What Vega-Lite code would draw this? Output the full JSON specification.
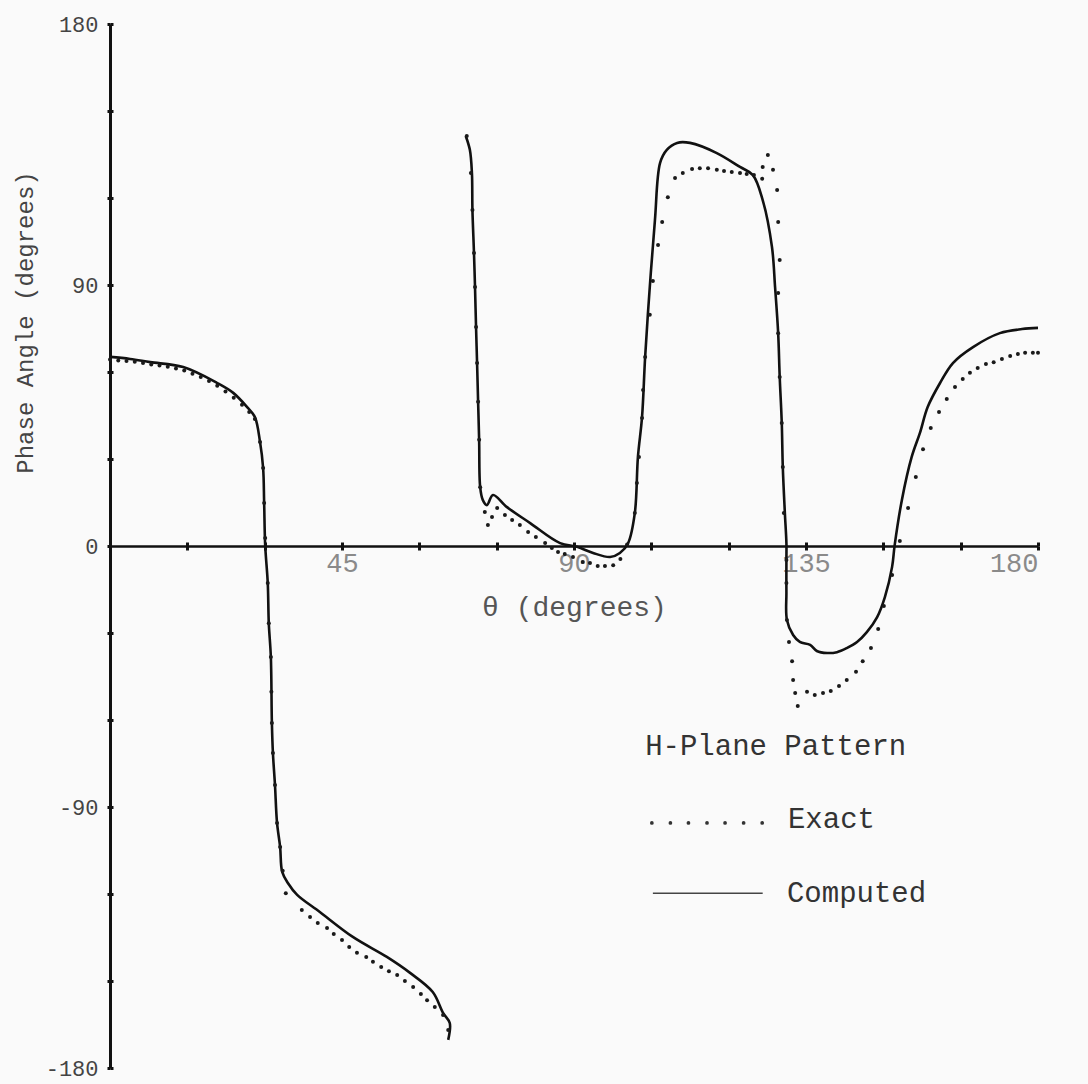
{
  "$schema": "https://vega.github.io/schema/vega-lite/v6.json",
  "width": 928,
  "height": 1044,
  "autosize": {"type": "none"},
  "padding": {"left": 110, "top": 24, "right": 50, "bottom": 16},
  "background": "#fafafa",
  "config": {
    "view": {"stroke": null},
    "font": "Liberation Mono",
    "axis": {"grid": false, "domainColor": "#111", "tickColor": "#111", "labelFont": "Liberation Mono", "titleFont": "Liberation Mono", "titleFontWeight": "normal"}
  },
  "datasets": {
    "computed": [
      {"seg": "A", "i": 0, "theta": 0, "phase": 65.2},
      {"seg": "A", "i": 1, "theta": 3.9, "phase": 64.5},
      {"seg": "A", "i": 2, "theta": 7.8, "phase": 63.4},
      {"seg": "A", "i": 3, "theta": 14.2, "phase": 61.7},
      {"seg": "A", "i": 4, "theta": 20.8, "phase": 56.2},
      {"seg": "A", "i": 5, "theta": 23.9, "phase": 52.8},
      {"seg": "A", "i": 6, "theta": 26.6, "phase": 47.9},
      {"seg": "A", "i": 7, "theta": 28.1, "phase": 44.5},
      {"seg": "A", "i": 8, "theta": 29.1, "phase": 35.9},
      {"seg": "A", "i": 9, "theta": 29.7, "phase": 26.9},
      {"seg": "A", "i": 10, "theta": 29.9, "phase": 14.8},
      {"seg": "A", "i": 11, "theta": 30.1, "phase": 0.3},
      {"seg": "A", "i": 12, "theta": 30.6, "phase": -12.8},
      {"seg": "A", "i": 13, "theta": 30.8, "phase": -26.6},
      {"seg": "A", "i": 14, "theta": 31.2, "phase": -38.3},
      {"seg": "A", "i": 15, "theta": 31.4, "phase": -61.0},
      {"seg": "A", "i": 16, "theta": 31.6, "phase": -71.4},
      {"seg": "A", "i": 17, "theta": 32.0, "phase": -82.4},
      {"seg": "A", "i": 18, "theta": 32.4, "phase": -95.5},
      {"seg": "A", "i": 19, "theta": 33.0, "phase": -103.8},
      {"seg": "A", "i": 20, "theta": 33.4, "phase": -112.4},
      {"seg": "A", "i": 21, "theta": 34.5, "phase": -116.2},
      {"seg": "A", "i": 22, "theta": 36.3, "phase": -120.3},
      {"seg": "A", "i": 23, "theta": 40.7, "phase": -126.2},
      {"seg": "A", "i": 24, "theta": 47.1, "phase": -134.8},
      {"seg": "A", "i": 25, "theta": 53.7, "phase": -141.7},
      {"seg": "A", "i": 26, "theta": 58.2, "phase": -147.2},
      {"seg": "A", "i": 27, "theta": 62.6, "phase": -153.8},
      {"seg": "A", "i": 28, "theta": 64.6, "phase": -161.0},
      {"seg": "A", "i": 29, "theta": 65.9, "phase": -164.5},
      {"seg": "A", "i": 30, "theta": 65.6, "phase": -170.3},
      {"seg": "B", "i": 31, "theta": 69.0, "phase": 141.4},
      {"seg": "B", "i": 32, "theta": 69.8, "phase": 136.6},
      {"seg": "B", "i": 33, "theta": 70.2, "phase": 128.6},
      {"seg": "B", "i": 34, "theta": 70.3, "phase": 115.9},
      {"seg": "B", "i": 35, "theta": 70.6, "phase": 101.0},
      {"seg": "B", "i": 36, "theta": 70.8, "phase": 89.3},
      {"seg": "B", "i": 37, "theta": 71.0, "phase": 75.5},
      {"seg": "B", "i": 38, "theta": 71.2, "phase": 63.1},
      {"seg": "B", "i": 39, "theta": 71.4, "phase": 49.7},
      {"seg": "B", "i": 40, "theta": 71.6, "phase": 36.6},
      {"seg": "B", "i": 41, "theta": 71.8, "phase": 20.3},
      {"seg": "B", "i": 42, "theta": 72.3, "phase": 15.9},
      {"seg": "B", "i": 43, "theta": 73.1, "phase": 14.1},
      {"seg": "B", "i": 44, "theta": 74.3, "phase": 17.6},
      {"seg": "B", "i": 45, "theta": 77.0, "phase": 13.4},
      {"seg": "B", "i": 46, "theta": 81.5, "phase": 7.9},
      {"seg": "B", "i": 47, "theta": 87.3, "phase": 1.0},
      {"seg": "B", "i": 48, "theta": 90.6, "phase": -0.3},
      {"seg": "B", "i": 49, "theta": 93.7, "phase": -2.4},
      {"seg": "B", "i": 50, "theta": 97.0, "phase": -3.8},
      {"seg": "B", "i": 51, "theta": 98.9, "phase": -2.4},
      {"seg": "B", "i": 52, "theta": 100.5, "phase": 1.0},
      {"seg": "B", "i": 53, "theta": 101.8, "phase": 11.4},
      {"seg": "B", "i": 54, "theta": 102.4, "phase": 30.7},
      {"seg": "B", "i": 55, "theta": 103.2, "phase": 44.5},
      {"seg": "B", "i": 56, "theta": 103.8, "phase": 65.2},
      {"seg": "B", "i": 57, "theta": 104.7, "phase": 89.3},
      {"seg": "B", "i": 58, "theta": 105.7, "phase": 112.4},
      {"seg": "B", "i": 59, "theta": 106.7, "phase": 132.1},
      {"seg": "B", "i": 60, "theta": 108.0, "phase": 136.6},
      {"seg": "B", "i": 61, "theta": 110.0, "phase": 139.0},
      {"seg": "B", "i": 62, "theta": 112.5, "phase": 139.0},
      {"seg": "B", "i": 63, "theta": 117.7, "phase": 135.5},
      {"seg": "B", "i": 64, "theta": 122.2, "phase": 130.7},
      {"seg": "B", "i": 65, "theta": 124.7, "phase": 127.9},
      {"seg": "B", "i": 66, "theta": 126.6, "phase": 119.3},
      {"seg": "B", "i": 67, "theta": 128.4, "phase": 103.1},
      {"seg": "B", "i": 68, "theta": 129.0, "phase": 89.3},
      {"seg": "B", "i": 69, "theta": 129.6, "phase": 73.4},
      {"seg": "B", "i": 70, "theta": 129.9, "phase": 58.3},
      {"seg": "B", "i": 71, "theta": 130.3, "phase": 42.4},
      {"seg": "B", "i": 72, "theta": 130.5, "phase": 27.2},
      {"seg": "B", "i": 73, "theta": 130.9, "phase": 11.4},
      {"seg": "B", "i": 74, "theta": 131.2, "phase": 1.0},
      {"seg": "B", "i": 75, "theta": 131.2, "phase": -4.8},
      {"seg": "B", "i": 76, "theta": 131.2, "phase": -15.9},
      {"seg": "B", "i": 77, "theta": 131.3, "phase": -25.5},
      {"seg": "B", "i": 78, "theta": 132.5, "phase": -30.7},
      {"seg": "B", "i": 79, "theta": 133.8, "phase": -33.1},
      {"seg": "B", "i": 80, "theta": 135.8, "phase": -34.1},
      {"seg": "B", "i": 81, "theta": 137.1, "phase": -36.2},
      {"seg": "B", "i": 82, "theta": 139.1, "phase": -36.9},
      {"seg": "B", "i": 83, "theta": 141.0, "phase": -36.6},
      {"seg": "B", "i": 84, "theta": 142.9, "phase": -35.2},
      {"seg": "B", "i": 85, "theta": 144.9, "phase": -33.1},
      {"seg": "B", "i": 86, "theta": 146.8, "phase": -29.7},
      {"seg": "B", "i": 87, "theta": 148.8, "phase": -24.5},
      {"seg": "B", "i": 88, "theta": 150.3, "phase": -17.6},
      {"seg": "B", "i": 89, "theta": 151.7, "phase": -7.2},
      {"seg": "B", "i": 90, "theta": 152.2, "phase": 0.3},
      {"seg": "B", "i": 91, "theta": 153.6, "phase": 15.9},
      {"seg": "B", "i": 92, "theta": 155.5, "phase": 30.7},
      {"seg": "B", "i": 93, "theta": 157.1, "phase": 39.0},
      {"seg": "B", "i": 94, "theta": 158.6, "phase": 47.9},
      {"seg": "B", "i": 95, "theta": 161.0, "phase": 56.2},
      {"seg": "B", "i": 96, "theta": 163.5, "phase": 63.1},
      {"seg": "B", "i": 97, "theta": 167.4, "phase": 68.6},
      {"seg": "B", "i": 98, "theta": 172.6, "phase": 73.4},
      {"seg": "B", "i": 99, "theta": 176.9, "phase": 74.8},
      {"seg": "B", "i": 100, "theta": 180.0, "phase": 75.2}
    ],
    "exact": [
      {"theta": 0, "phase": 64.3}, {"theta": 1.6, "phase": 64.0}, {"theta": 3.2, "phase": 63.8}, {"theta": 4.8, "phase": 63.5},
      {"theta": 6.4, "phase": 63.1}, {"theta": 8.0, "phase": 62.6}, {"theta": 9.6, "phase": 62.2}, {"theta": 11.2, "phase": 61.8},
      {"theta": 12.8, "phase": 61.2}, {"theta": 14.4, "phase": 60.5}, {"theta": 16.0, "phase": 59.4}, {"theta": 17.6, "phase": 58.3},
      {"theta": 19.2, "phase": 56.9}, {"theta": 20.8, "phase": 55.3}, {"theta": 22.4, "phase": 53.3}, {"theta": 24.0, "phase": 51.1},
      {"theta": 25.6, "phase": 48.7}, {"theta": 27.0, "phase": 46.2}, {"theta": 28.1, "phase": 43.8},
      {"theta": 29.1, "phase": 35.9}, {"theta": 29.7, "phase": 26.9}, {"theta": 29.9, "phase": 14.8}, {"theta": 30.1, "phase": 2.8},
      {"theta": 30.6, "phase": -12.8}, {"theta": 30.8, "phase": -26.6}, {"theta": 31.2, "phase": -38.3}, {"theta": 31.3, "phase": -50.3},
      {"theta": 31.4, "phase": -61.0}, {"theta": 31.6, "phase": -71.4}, {"theta": 32.0, "phase": -82.4}, {"theta": 32.4, "phase": -95.5},
      {"theta": 33.0, "phase": -103.8}, {"theta": 33.5, "phase": -112.0},
      {"theta": 34.1, "phase": -119.7}, {"theta": 37.2, "phase": -125.5}, {"theta": 38.8, "phase": -127.9}, {"theta": 40.3, "phase": -130.0},
      {"theta": 42.1, "phase": -131.7}, {"theta": 43.4, "phase": -133.8}, {"theta": 45.0, "phase": -135.9}, {"theta": 46.4, "phase": -138.3},
      {"theta": 47.9, "phase": -140.3}, {"theta": 49.7, "phase": -141.7}, {"theta": 51.0, "phase": -143.4}, {"theta": 52.6, "phase": -145.2},
      {"theta": 54.1, "phase": -146.6}, {"theta": 55.7, "phase": -147.9}, {"theta": 57.2, "phase": -150.0}, {"theta": 58.8, "phase": -152.1},
      {"theta": 60.3, "phase": -154.5}, {"theta": 61.5, "phase": -156.6}, {"theta": 63.0, "phase": -159.0}, {"theta": 64.6, "phase": -161.7},
      {"theta": 65.6, "phase": -166.9},
      {"theta": 69.2, "phase": 141.4}, {"theta": 70.0, "phase": 128.6}, {"theta": 70.3, "phase": 115.9}, {"theta": 70.6, "phase": 101.0},
      {"theta": 70.8, "phase": 89.3}, {"theta": 71.0, "phase": 75.5}, {"theta": 71.2, "phase": 63.1}, {"theta": 71.4, "phase": 49.7},
      {"theta": 71.6, "phase": 36.6}, {"theta": 71.8, "phase": 20.3},
      {"theta": 72.7, "phase": 11.7}, {"theta": 73.3, "phase": 7.2}, {"theta": 74.1, "phase": 10.0}, {"theta": 75.1, "phase": 13.1},
      {"theta": 76.6, "phase": 10.7}, {"theta": 78.0, "phase": 9.0}, {"theta": 79.5, "phase": 7.2}, {"theta": 81.1, "phase": 4.8},
      {"theta": 82.6, "phase": 3.1}, {"theta": 84.4, "phase": 1.0}, {"theta": 85.7, "phase": -0.7}, {"theta": 86.9, "phase": -2.1},
      {"theta": 88.2, "phase": -2.8}, {"theta": 89.8, "phase": -3.8}, {"theta": 91.7, "phase": -5.5}, {"theta": 93.1, "phase": -5.9},
      {"theta": 94.6, "phase": -6.9}, {"theta": 96.0, "phase": -6.9}, {"theta": 97.6, "phase": -6.6}, {"theta": 99.0, "phase": -4.5},
      {"theta": 100.3, "phase": 0.5}, {"theta": 101.8, "phase": 11.4}, {"theta": 102.2, "phase": 21.7}, {"theta": 102.6, "phase": 30.7},
      {"theta": 103.2, "phase": 44.1}, {"theta": 103.4, "phase": 53.8}, {"theta": 103.8, "phase": 65.2}, {"theta": 104.7, "phase": 79.7},
      {"theta": 105.3, "phase": 91.4}, {"theta": 106.3, "phase": 103.8}, {"theta": 107.1, "phase": 111.7}, {"theta": 108.2, "phase": 120.3},
      {"theta": 109.6, "phase": 126.9}, {"theta": 111.1, "phase": 128.6}, {"theta": 112.9, "phase": 130.0}, {"theta": 114.4, "phase": 130.3},
      {"theta": 116.0, "phase": 130.3}, {"theta": 117.7, "phase": 129.7}, {"theta": 119.1, "phase": 129.3}, {"theta": 120.6, "phase": 129.0},
      {"theta": 122.2, "phase": 128.6}, {"theta": 123.5, "phase": 128.3}, {"theta": 124.9, "phase": 127.9}, {"theta": 126.5, "phase": 126.6},
      {"theta": 126.6, "phase": 130.7}, {"theta": 127.6, "phase": 134.8}, {"theta": 128.6, "phase": 129.7}, {"theta": 129.4, "phase": 122.8},
      {"theta": 129.6, "phase": 111.7}, {"theta": 129.9, "phase": 98.6}, {"theta": 129.6, "phase": 87.2}, {"theta": 129.6, "phase": 73.4},
      {"theta": 129.9, "phase": 58.3}, {"theta": 130.3, "phase": 42.4}, {"theta": 130.5, "phase": 27.2}, {"theta": 130.7, "phase": 11.4},
      {"theta": 131.2, "phase": -4.8}, {"theta": 131.2, "phase": -12.8}, {"theta": 131.3, "phase": -25.5},
      {"theta": 131.7, "phase": -33.1}, {"theta": 132.3, "phase": -39.7}, {"theta": 132.5, "phase": -46.2}, {"theta": 132.9, "phase": -50.7},
      {"theta": 133.4, "phase": -55.2}, {"theta": 135.2, "phase": -50.3}, {"theta": 136.7, "phase": -51.4}, {"theta": 138.3, "phase": -50.7},
      {"theta": 139.8, "phase": -50.0}, {"theta": 141.4, "phase": -48.3}, {"theta": 142.9, "phase": -46.2}, {"theta": 144.7, "phase": -43.4},
      {"theta": 146.0, "phase": -39.7}, {"theta": 147.6, "phase": -35.2}, {"theta": 149.0, "phase": -28.6}, {"theta": 150.1, "phase": -20.7},
      {"theta": 151.7, "phase": -10.0}, {"theta": 153.2, "phase": 1.7}, {"theta": 154.8, "phase": 13.1}, {"theta": 156.3, "phase": 23.8},
      {"theta": 157.7, "phase": 33.4}, {"theta": 159.2, "phase": 40.7}, {"theta": 160.8, "phase": 46.2}, {"theta": 162.3, "phase": 50.7},
      {"theta": 163.9, "phase": 54.8}, {"theta": 165.4, "phase": 57.6}, {"theta": 166.8, "phase": 59.7}, {"theta": 168.3, "phase": 61.4},
      {"theta": 169.9, "phase": 62.8}, {"theta": 171.4, "phase": 63.4}, {"theta": 173.0, "phase": 64.5}, {"theta": 174.6, "phase": 65.5},
      {"theta": 176.1, "phase": 66.2}, {"theta": 177.5, "phase": 66.6}, {"theta": 179.0, "phase": 66.6}, {"theta": 180.0, "phase": 66.6}
    ],
    "legendText": [
      {"theta": 103.8, "phase": -69.0, "label": "H-Plane Pattern"},
      {"theta": 131.5, "phase": -94.1, "label": "Exact"},
      {"theta": 131.3, "phase": -119.7, "label": "Computed"}
    ],
    "legendDots": [
      {"theta": 105.1, "phase": -95.5}, {"theta": 108.7, "phase": -95.5}, {"theta": 112.2, "phase": -95.5},
      {"theta": 115.8, "phase": -95.5}, {"theta": 119.3, "phase": -95.5}, {"theta": 122.9, "phase": -95.5}, {"theta": 126.5, "phase": -95.5}
    ],
    "legendLine": [
      {"theta": 105.3, "theta2": 126.6, "phase": -119.7}
    ]
  },
  "resolve": {"axis": {"x": "independent", "y": "independent"}},
  "layer": [
    {
      "data": {"name": "computed"},
      "mark": {"type": "line", "color": "#111", "strokeWidth": 2.6, "interpolate": "catmull-rom"},
      "encoding": {
        "x": {"field": "theta", "type": "quantitative",
          "scale": {"domain": [0, 180], "nice": false, "zero": false},
          "axis": {"orient": "bottom", "offset": -522, "values": [0, 15, 30, 45, 60, 75, 90, 105, 120, 135, 150, 165, 180],
            "labelExpr": "datum.value % 45 == 0 && datum.value > 0 ? '' + datum.value : ''",
            "domainWidth": 2.5, "tickSize": 4, "tickWidth": 3, "labelFontSize": 27, "labelColor": "#8a8a8a", "labelPadding": 0,
            "title": "θ (degrees)", "titleFontSize": 28, "titleColor": "#555", "titleY": 69, "titleBaseline": "alphabetic"}},
        "y": {"field": "phase", "type": "quantitative",
          "scale": {"domain": [-180, 180], "nice": false, "zero": false},
          "axis": {"orient": "left", "values": [-180, -150, -120, -90, -60, -30, 0, 30, 60, 90, 120, 150, 180],
            "labelExpr": "datum.value % 90 == 0 ? '' + datum.value : ''",
            "domainWidth": 3, "tickSize": 3, "tickWidth": 3, "labelFontSize": 22, "labelColor": "#444", "labelPadding": 9,
            "title": "Phase Angle (degrees)", "titleFontSize": 24, "titleColor": "#444",
            "titleX": -85, "titleY": 298, "titleAngle": -90, "titleBaseline": "middle", "titleAlign": "center"}},
        "detail": {"field": "seg"},
        "order": {"field": "i", "type": "quantitative"}
      }
    },
    {
      "data": {"name": "exact"},
      "mark": {"type": "point", "filled": true, "color": "#1a1a1a", "size": 16, "opacity": 1},
      "encoding": {
        "x": {"field": "theta", "type": "quantitative",
          "axis": {"orient": "top", "offset": -522, "values": [15, 30, 45, 60, 75, 90, 105, 120, 135, 150, 165, 180],
            "labels": false, "domain": false, "tickSize": 4, "tickWidth": 3, "title": null}},
        "y": {"field": "phase", "type": "quantitative",
          "axis": {"orient": "right", "offset": -928, "values": [-180, -150, -120, -90, -60, -30, 30, 60, 90, 120, 150, 180],
            "labels": false, "domain": false, "tickSize": 3, "tickWidth": 3, "title": null}}
      }
    },
    {
      "data": {"name": "legendText"},
      "mark": {"type": "text", "align": "left", "baseline": "middle", "fontSize": 29, "color": "#333", "font": "Liberation Mono"},
      "encoding": {
        "x": {"field": "theta", "type": "quantitative", "axis": null},
        "y": {"field": "phase", "type": "quantitative", "axis": null},
        "text": {"field": "label"}
      }
    },
    {
      "data": {"name": "legendDots"},
      "mark": {"type": "point", "filled": true, "color": "#333", "size": 14, "opacity": 1},
      "encoding": {
        "x": {"field": "theta", "type": "quantitative", "axis": null},
        "y": {"field": "phase", "type": "quantitative", "axis": null}
      }
    },
    {
      "data": {"name": "legendLine"},
      "mark": {"type": "rule", "color": "#444", "strokeWidth": 1.5},
      "encoding": {
        "x": {"field": "theta", "type": "quantitative", "axis": null},
        "x2": {"field": "theta2"},
        "y": {"field": "phase", "type": "quantitative", "axis": null}
      }
    }
  ]
}
